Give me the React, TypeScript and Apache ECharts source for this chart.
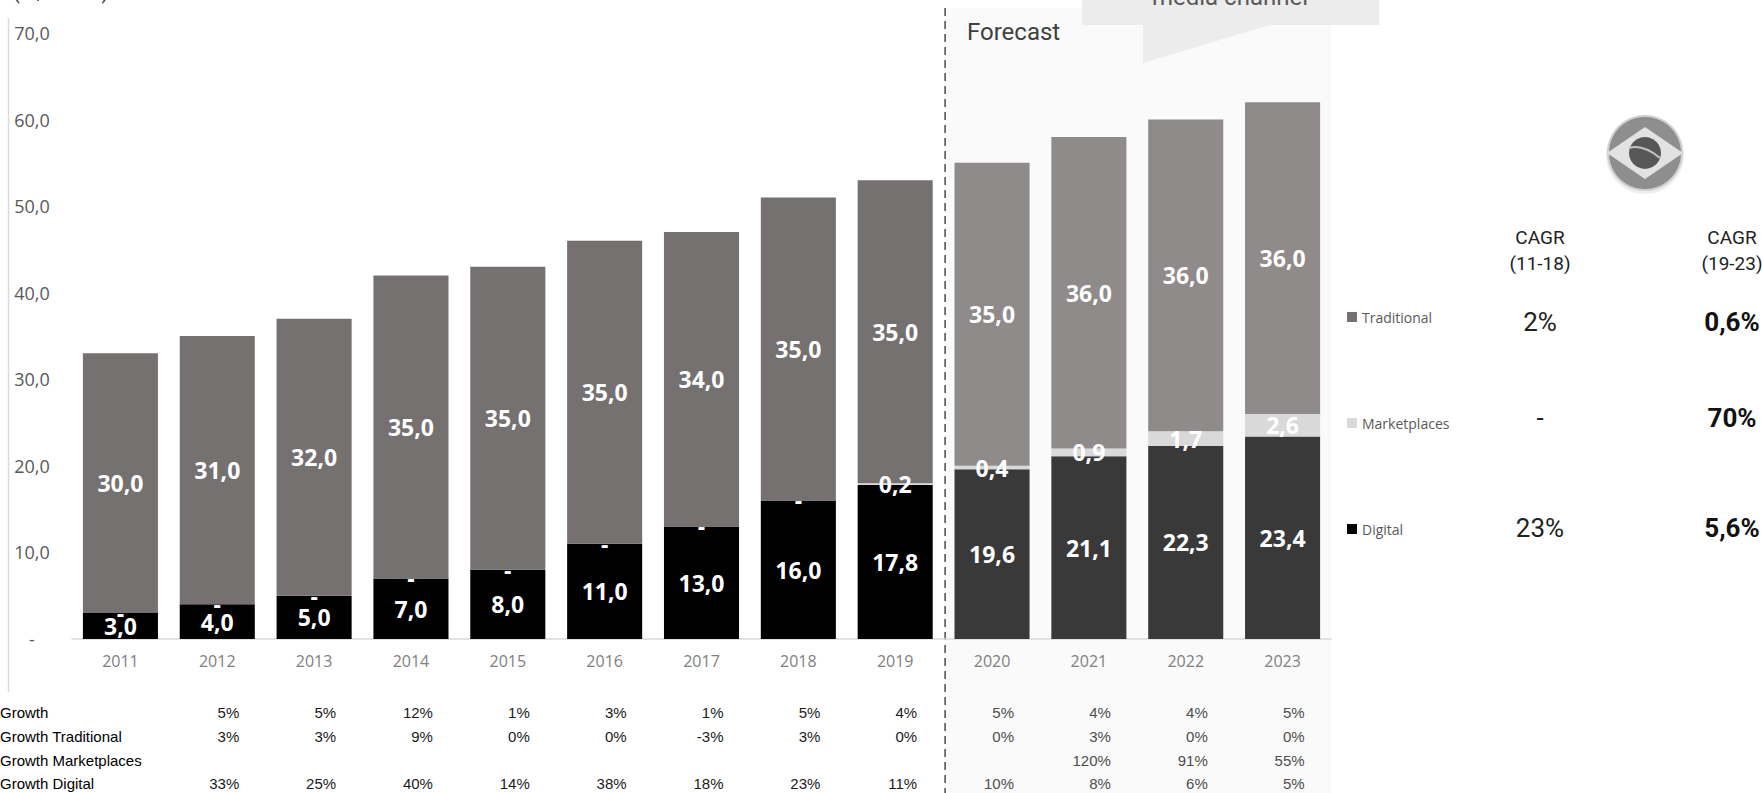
import React, { useEffect, useRef } from 'react';
import * as echarts from 'echarts';

const years = ['2011', '2012', '2013', '2014', '2015', '2016', '2017', '2018', '2019', '2020', '2021', '2022', '2023'];
const digital = [3.0, 4.0, 5.0, 7.0, 8.0, 11.0, 13.0, 16.0, 17.8, 19.6, 21.1, 22.3, 23.4];
const marketplaces = [0, 0, 0, 0, 0, 0, 0, 0, 0.2, 0.4, 0.9, 1.7, 2.6];
const traditional = [30.0, 31.0, 32.0, 35.0, 35.0, 35.0, 34.0, 35.0, 35.0, 35.0, 36.0, 36.0, 36.0];
const forecastStartIndex = 9;

const yMin = 0;
const yMax = 70;
const yInterval = 10;

const growthRowLabels = ['Growth', 'Growth Traditional', 'Growth Marketplaces', 'Growth Digital'];
const growthTotal = [null, '5%', '5%', '12%', '1%', '3%', '1%', '5%', '4%', '5%', '4%', '4%', '5%'];
const growthTraditional = [null, '3%', '3%', '9%', '0%', '0%', '-3%', '3%', '0%', '0%', '3%', '0%', '0%'];
const growthMarketplaces = [null, null, null, null, null, null, null, null, null, null, '120%', '91%', '55%'];
const growthDigital = [null, '33%', '25%', '40%', '14%', '38%', '18%', '23%', '11%', '10%', '8%', '6%', '5%'];

const cagrHeaders = ['CAGR\n(11-18)', 'CAGR\n(19-23)'];
const cagrTraditional = ['2%', '0,6%'];
const cagrMarketplaces = ['-', '70%'];
const cagrDigital = ['23%', '5,6%'];

const fmt = (v: number) => (v === 0 ? '-' : v.toFixed(1).replace('.', ','));

const W = 1762;
const H = 793;

export default function App() {
  const ref = useRef<HTMLDivElement>(null);

  useEffect(() => {
    if (!ref.current) return;
    const chart = echarts.init(ref.current, undefined, { renderer: 'svg', width: W, height: H });

    const labelBase = {
      show: true,
      position: 'inside',
      color: '#ffffff',
      fontFamily: 'Open Sans',
      fontWeight: 'bold',
      fontSize: 23,
      formatter: (p: any) => fmt(p.value),
    };

    const option: any = {
      animation: false,
      backgroundColor: '#ffffff',
      grid: { left: 72, right: W - 1331, top: 33, bottom: H - 639, containLabel: false },
      legend: {
        orient: 'vertical',
        left: 1347,
        top: 310,
        padding: 0,
        itemWidth: 10,
        itemHeight: 10,
        itemGap: 92,
        icon: 'rect',
        selectedMode: false,
        data: ['Traditional', 'Marketplaces', 'Digital'],
        textStyle: { fontFamily: 'Open Sans', fontSize: 14, color: '#595959', lineHeight: 14 },
      },
      xAxis: {
        type: 'category',
        data: years,
        axisLine: { show: true, lineStyle: { color: '#d9d9d9', width: 1.5 } },
        axisTick: { show: false },
        axisLabel: { color: '#808080', fontFamily: 'Open Sans', fontSize: 16, margin: 14 },
        splitLine: { show: false },
      },
      yAxis: {
        type: 'value',
        min: yMin,
        max: yMax,
        interval: yInterval,
        axisLine: { show: false },
        axisTick: { show: false },
        splitLine: { show: false },
        axisLabel: {
          color: '#595959',
          fontFamily: 'Open Sans',
          fontSize: 18,
          align: 'center',
          margin: 40,
          formatter: (v: number) => fmt(v),
        },
      },
      series: [
        {
          name: 'Digital',
          type: 'bar',
          stack: 'total',
          barCategoryGap: '22.5%',
          itemStyle: { color: '#000000' },
          data: digital.map((v, i) => ({ value: v, itemStyle: { color: i >= forecastStartIndex ? '#393939' : '#000000' } })),
          label: labelBase,
        },
        {
          name: 'Marketplaces',
          type: 'bar',
          stack: 'total',
          barCategoryGap: '22.5%',
          itemStyle: { color: '#d9d9d9' },
          data: marketplaces.map((v) => ({ value: v })),
          label: labelBase,
        },
        {
          name: 'Traditional',
          type: 'bar',
          stack: 'total',
          barCategoryGap: '22.5%',
          itemStyle: { color: '#757170' },
          data: traditional.map((v, i) => ({ value: v, itemStyle: { color: i >= forecastStartIndex ? '#8f8b8a' : '#757170' } })),
          label: labelBase,
        },
      ],
    };

    chart.setOption(option);

    const xs = years.map((y) => chart.convertToPixel({ xAxisIndex: 0 }, y) as number);
    const dashX = (xs[forecastStartIndex - 1] + xs[forecastStartIndex]) / 2 + 1.5;
    const gridRight = 1331;

    const txt = (x: number, y: number, text: string, s: any) => ({
      type: 'text',
      x,
      y,
      style: {
        text,
        textAlign: s.align || 'left',
        align: s.align || 'left',
        textVerticalAlign: s.va || 'middle',
        verticalAlign: s.va || 'middle',
        fill: s.color || '#222',
        fontSize: s.size || 15,
        fontFamily: s.family || 'Liberation Sans',
        fontWeight: s.weight || 'normal',
        lineHeight: s.lineHeight,
      },
    });

    const graphics: any[] = [];
    // forecast background
    graphics.push({
      type: 'rect',
      z: -1,
      shape: { x: dashX + 2, y: 8, width: gridRight - dashX - 2, height: H - 8 },
      style: { fill: '#fafafa' },
    });
    // left border line
    graphics.push({
      type: 'line',
      shape: { x1: 8.5, y1: 18, x2: 8.5, y2: 692 },
      style: { stroke: '#d9d9d9', lineWidth: 1.5 },
    });
    // dashed forecast separator
    graphics.push({
      type: 'line',
      shape: { x1: dashX, y1: 8, x2: dashX, y2: H },
      style: { stroke: '#4a4a4a', lineWidth: 1.5, lineDash: [8, 5] },
    });
    graphics.push(txt(967, 32, 'Forecast', { size: 24, family: 'Roboto', color: '#404040' }));

    // callout at top
    graphics.push({ type: 'rect', shape: { x: 1082, y: 0, width: 297, height: 25 }, style: { fill: '#ececec' } });
    graphics.push({
      type: 'polygon',
      shape: { points: [[1143, 24], [1273, 24], [1143, 63]] },
      style: { fill: '#ececec' },
    });
    graphics.push(txt(1230, 9, 'media channel', { size: 24, family: 'Roboto', color: '#595959', align: 'center', va: 'bottom' }));
    graphics.push(txt(13, 2, '(R$ billion)', { size: 20, family: 'Roboto', color: '#404040', va: 'bottom' }));

    // growth table
    const rows = [growthTotal, growthTraditional, growthMarketplaces, growthDigital];
    const rowY = [712, 736, 760, 783];
    growthRowLabels.forEach((lab, r) => {
      graphics.push(txt(0, rowY[r], lab, { size: 15, color: '#000000' }));
      rows[r].forEach((v, i) => {
        if (v == null) return;
        graphics.push(
          txt(xs[i] + 22, rowY[r], v, {
            size: 15,
            align: 'right',
            color: i >= forecastStartIndex ? '#4d4d4d' : '#1a1a1a',
          })
        );
      });
    });

    // Brazil logo (greyscale)
    const lx = 1645;
    const ly = 153;
    graphics.push({ type: 'circle', shape: { cx: lx, cy: ly + 2, r: 39 }, style: { fill: '#eeeeee' } });
    graphics.push({ type: 'circle', shape: { cx: lx, cy: ly, r: 37 }, style: { fill: '#8e8e8e', stroke: '#cfcfcf', lineWidth: 2 } });
    graphics.push({
      type: 'polygon',
      shape: { points: [[lx - 38, ly], [lx, ly - 26], [lx + 38, ly], [lx, ly + 26]] },
      style: { fill: '#e2e2e2' },
    });
    graphics.push({ type: 'circle', shape: { cx: lx, cy: ly, r: 16 }, style: { fill: '#575757' } });
    graphics.push({
      type: 'bezierCurve',
      shape: { x1: lx - 16, y1: ly - 5, x2: lx + 15, y2: ly + 5, cpx1: lx - 2, cpy1: ly - 9 },
      style: { stroke: '#c4c4c4', lineWidth: 2, fill: 'none' },
    });

    // CAGR block
    const cagrX = [1540, 1732];
    cagrHeaders.forEach((h, c) => {
      graphics.push(txt(cagrX[c], 250, h, { size: 19, family: 'Roboto', color: '#222222', align: 'center', lineHeight: 26 }));
    });
    const cagrRows = [cagrTraditional, cagrMarketplaces, cagrDigital];
    const cagrY = [322, 418, 528];
    cagrRows.forEach((row, r) => {
      row.forEach((v, c) => {
        graphics.push(
          txt(cagrX[c], cagrY[r], v, {
            size: 26,
            family: 'Roboto',
            color: c === 0 ? '#222222' : '#111111',
            weight: c === 0 ? 'normal' : 'bold',
            align: 'center',
          })
        );
      });
    });

    chart.setOption({ graphic: graphics });

    return () => {
      chart.dispose();
    };
  }, []);

  return <div ref={ref} style={{ position: 'fixed', left: 0, top: 0, width: W, height: H }} />;
}
